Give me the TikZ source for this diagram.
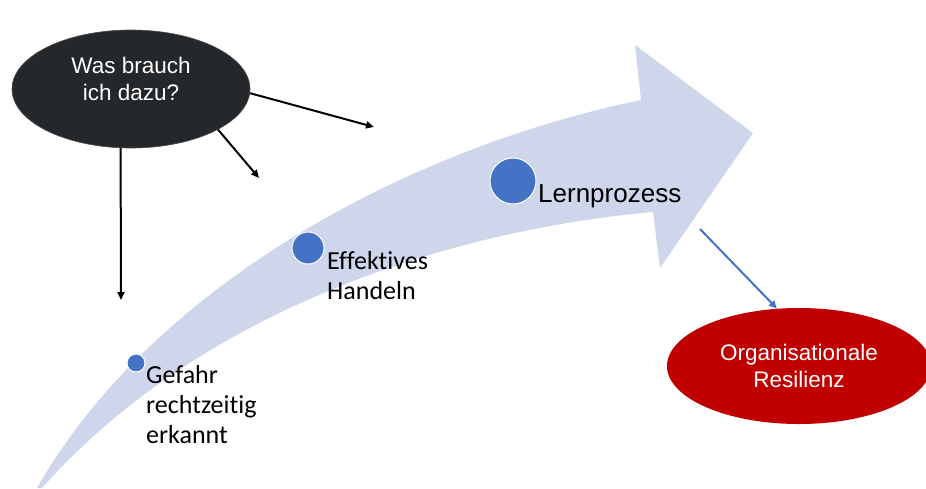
\documentclass[tikz,border=0pt]{standalone}
\usepackage{fontspec}
\setmainfont{Carlito}[Ligatures=NoCommon]
\newfontfamily\arialfont{Liberation Sans}
\usetikzlibrary{shapes.geometric,arrows.meta}
\definecolor{shaft}{HTML}{CFD5EA}
\definecolor{dotblue}{HTML}{4472C4}
\definecolor{qdark}{HTML}{25282B}
\definecolor{resred}{HTML}{C00000}
\tikzset{
  blob/.style={ellipse, inner sep=0pt, align=center, text=white,
    font=\arialfont\fontsize{22.5}{27}\selectfont},
  stepdot/.style={circle, fill=dotblue, draw=white, line width=1pt, inner sep=0pt},
  steplabel/.style={anchor=north west, inner sep=0pt, align=left,
    font=\fontsize{26}{30}\selectfont},
  pointer/.style={line width=2pt, -{Triangle[length=8pt,width=7pt]}}
}
\begin{document}
\begin{tikzpicture}[x=1pt,y=-1pt]
  \useasboundingbox (0,0) rectangle (926,488);

  % curved arrow
  \fill[shaft] (37,488) .. controls (150,290) and (400,150) .. (641,100)
    -- (635,45) -- (753,133) -- (660,268) -- (653,212)
    .. controls (450,230) and (200,310) .. (42,488) -- cycle;

  % question
  \node[blob, fill=qdark, draw=gray!60!black, line width=0.6pt, text depth=20pt,
    minimum width=238, minimum height=118] (q) at (131,89) {Was brauch\\ich dazu?};
  \coordinate (t1) at (121,300);
  \coordinate (t2) at (259,178);
  \coordinate (t3) at (374,127);
  \draw[pointer] (q.260) -- (t1);
  \draw[pointer] (q.335) -- (t2);
  \draw[pointer] (q.358) -- (t3);

  % steps
  \node[stepdot, minimum size=18] (d1) at (136,363) {};
  \node[stepdot, minimum size=32] (d2) at (308,248) {};
  \node[stepdot, minimum size=46] (d3) at (513,181) {};
  \node[steplabel] (l1) at (146,365) {Gefahr\\rechtzeitig\\erkannt};
  \node[steplabel] (l2) at (327,251) {Effektives\\Handeln};
  \node[anchor=base west, inner sep=0pt, font=\arialfont\fontsize{26}{30}\selectfont]
    (l3) at (538,202) {Lernprozess};

  % result
  \node[blob, fill=resred, minimum width=264, minimum height=116] (res) at (799,366)
    {Organisationale\\Resilienz};
  \coordinate (s1) at (700,229);
  \draw[dotblue, line width=2pt, -{Triangle[length=8pt,width=7pt]}] (s1) -- (res.111);
\end{tikzpicture}
\end{document}
